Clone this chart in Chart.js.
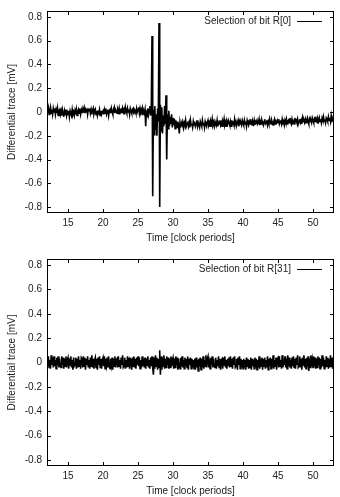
<!DOCTYPE html>
<html lang="en">
<head>
  <meta charset="UTF-8" />
  <title>Differential traces</title>
  <script src="https://cdn.jsdelivr.net/npm/chart.js"></script>
  <style>
    body { margin: 0; background: #fff; }
    .box { position: absolute; left: 0; width: 340px; }
  </style>
</head>
<body>

<div class="box" style="top:0;height:245px"><canvas id="top" width="340" height="245"></canvas></div>
<div class="box" style="top:245px;height:252px"><canvas id="bottom" width="340" height="252"></canvas></div>

<script>
  // sampling of the time axis (clock periods)
  const tStart = 12;
  const tStep = 0.1;

  const xTicks = [15, 20, 25, 30, 35, 40, 45, 50];
  const yTicks = [-0.8, -0.6, -0.4, -0.2, 0, 0.2, 0.4, 0.6, 0.8];

  const labels = ['Selection of bit R[0]', 'Selection of bit R[31]'];

  // differential trace [mV], one row per clock period
  const traceR0 = [
    .02,-.01,.03,-.02,.01,.04,-.01,.02,-.02,.03,
    0,.03,-.02,.02,-.01,.03,-.03,.01,.02,-.02,
    .01,-.03,.02,-.01,-.04,.01,-.02,.02,-.03,0,
    -.02,.01,-.04,.01,-.01,-.03,.02,-.02,0,-.03,
    .01,-.02,.02,-.03,0,.02,-.01,.03,-.02,.01,
    .03,-.01,.02,.04,-.01,.02,0,.03,-.02,.02,
    .01,.03,-.01,.02,-.02,.01,.03,-.02,0,.02,
    -.02,.01,-.03,0,-.01,.02,-.03,.01,-.02,0,
    .01,-.02,.02,-.01,.03,-.02,0,.02,-.03,.01,
    .02,-.01,.03,0,-.02,.02,.04,-.01,.02,.01,
    -.01,.02,0,.03,-.02,.01,.02,-.01,.03,0,
    .02,-.02,.04,.01,-.01,.03,0,.02,-.02,.03,
    .01,-.01,.02,.03,-.02,.02,.01,-.01,.03,0,
    .02,.04,-.01,.03,0,.02,-.02,.03,.01,-.01,
    .02,-.12,.01,-.04,.03,-.02,.02,.05,-.03,.04,
    .64,-.71,.02,-.19,.05,-.15,-.02,-.2,.03,-.08,
    .75,-.8,.06,-.16,.04,-.18,-.03,-.12,.05,-.1,
    .14,-.4,-.02,-.14,.01,-.12,-.04,-.1,-.02,-.13,
    -.05,-.11,-.06,-.14,-.07,-.1,-.13,-.08,-.12,-.18,
    -.09,-.13,-.1,-.08,-.12,-.14,-.09,-.11,-.07,-.12,
    -.1,-.08,-.12,-.09,-.13,-.07,-.11,-.1,-.13,-.08,
    -.11,-.08,-.12,-.1,-.07,-.12,-.09,-.11,-.13,-.08,
    -.1,-.12,-.07,-.11,-.09,-.13,-.08,-.1,-.12,-.09,
    -.07,-.11,-.09,-.12,-.08,-.1,-.06,-.11,-.09,-.12,
    -.08,-.1,-.11,-.07,-.12,-.09,-.1,-.07,-.11,-.09,
    -.12,-.08,-.1,-.06,-.11,-.09,-.12,-.08,-.1,-.07,
    -.09,-.11,-.08,-.12,-.07,-.1,-.09,-.11,-.06,-.1,
    -.08,-.11,-.09,-.07,-.12,-.08,-.1,-.09,-.11,-.07,
    -.09,-.11,-.07,-.1,-.08,-.12,-.07,-.09,-.11,-.08,
    -.1,-.06,-.09,-.11,-.08,-.1,-.07,-.11,-.08,-.09,
    -.07,-.1,-.09,-.06,-.11,-.08,-.1,-.07,-.09,-.11,
    -.08,-.06,-.1,-.09,-.07,-.11,-.08,-.1,-.06,-.09,
    -.1,-.07,-.09,-.11,-.08,-.06,-.1,-.08,-.09,-.07,
    -.09,-.06,-.1,-.08,-.07,-.1,-.06,-.09,-.08,-.11,
    -.07,-.09,-.06,-.1,-.08,-.07,-.09,-.05,-.08,-.1,
    -.06,-.09,-.08,-.1,-.05,-.08,-.07,-.09,-.06,-.1,
    -.08,-.06,-.09,-.07,-.1,-.05,-.08,-.07,-.09,-.06,
    -.09,-.07,-.05,-.08,-.1,-.06,-.08,-.07,-.09,-.05,
    -.07,-.09,-.06,-.08,-.04,-.07,-.09,-.06,-.08,-.05,
    -.08,-.06,-.09,-.05,-.07,-.04,-.08,-.06,-.09,-.05,
    -.06,-.08,-.04,-.07,-.05,-.08,-.03,-.07,-.06,-.08,
    -.05
  ];

  const traceR31 = [
    .04,-.03,.05,-.04,.02,-.05,.06,-.02,.04,-.04,
    .05,-.03,.02,-.05,.04,-.02,.05,-.04,.03,-.03,
    -.04,.05,-.02,.04,-.05,.03,-.03,.05,-.04,.02,
    .04,-.05,.03,-.02,.05,-.04,.02,-.06,.04,-.03,
    -.02,.04,-.05,.03,-.04,.05,-.03,.02,-.05,.04,
    .03,-.04,.05,-.03,.04,-.06,.03,-.02,.05,-.04,
    .02,-.05,.04,-.03,.06,-.04,.03,-.05,.02,.04,
    -.04,.03,-.06,.04,-.02,.05,-.04,.03,-.05,.02,
    .04,-.03,.05,-.05,.03,-.02,.04,-.04,.05,-.03,
    -.05,.03,-.02,.04,-.06,.03,-.03,.05,-.04,.02,
    .03,-.04,.05,-.03,.02,-.05,.04,-.02,.06,-.04,
    -.03,.04,-.05,.02,-.04,.05,-.03,.04,-.05,.03,
    .02,-.06,.04,-.03,.05,-.04,.03,-.05,.04,-.02,
    .05,-.03,.04,-.05,.02,-.04,.05,-.03,.03,-.04,
    .04,-.05,.03,-.02,.05,-.04,.02,-.05,.04,-.03,
    .05,-.04,-.1,.04,-.05,.06,-.03,.04,-.06,.03,
    -.04,.1,-.1,.05,-.06,.04,-.03,.06,-.05,.03,
    -.04,.05,-.02,.04,-.05,.03,-.04,.05,-.03,.02,
    .04,-.05,.03,-.04,.05,-.02,.04,-.06,.03,-.03,
    -.05,.04,-.03,.05,-.04,.02,-.05,.04,-.03,.03,
    -.04,.05,-.06,.03,-.02,.04,-.05,.03,-.04,.02,
    -.05,.03,-.06,.04,-.04,.02,-.07,.03,-.03,.04,
    -.06,.03,-.04,.05,-.05,.02,-.03,.06,-.04,.03,
    .05,-.04,.03,-.05,.04,-.02,.05,-.04,.03,-.03,
    -.04,.04,-.05,.02,-.03,.05,-.04,.03,-.06,.02,
    .03,-.05,.04,-.02,.05,-.04,.02,-.05,.03,-.03,
    .04,-.04,.05,-.03,.03,-.05,.04,-.02,.05,-.04,
    -.03,.03,-.06,.04,-.02,.05,-.05,.03,-.04,.02,
    -.05,.03,-.04,.02,-.06,.04,-.03,.03,-.05,.02,
    -.04,.04,-.06,.03,-.03,.02,-.05,.04,-.04,.03,
    -.06,.02,-.04,.05,-.05,.03,-.03,.04,-.06,.03,
    -.03,.04,-.05,.02,-.04,.05,-.06,.03,-.03,.04,
    -.05,.03,-.04,.06,-.05,.02,-.03,.04,-.06,.03,
    .04,-.04,.05,-.03,.02,-.05,.06,-.04,.03,-.02,
    .05,-.04,.03,-.05,.06,-.03,.04,-.04,.02,-.05,
    .04,-.03,.05,-.04,.03,-.05,.04,-.02,.06,-.04,
    -.03,.05,-.04,.03,-.06,.04,-.02,.06,-.04,.03,
    -.05,.04,-.03,.05,-.07,.03,-.04,.06,-.03,.02,
    -.04,.05,-.03,.04,-.05,.03,-.04,.05,-.02,.04,
    -.05,.03,-.04,.06,-.03,.04,-.05,.02,-.04,.05,
    -.03,.04,-.05,.03,-.04,.06,-.03,.04,-.05,.03,
    .02
  ];

  const font = { family: "'Liberation Sans', Arial, sans-serif", size: 10 };
  const textColor = '#222';

  // gnuplot style: closed frame, inward ticks on all sides, key with sample line
  const framePlugin = {
    id: 'frame',
    afterDatasetsDraw(chart) {
      const { ctx, chartArea: a, scales: { x, y } } = chart;
      ctx.save();
      ctx.strokeStyle = '#000';
      ctx.lineWidth = 1;
      ctx.strokeRect(a.left + 0.5, a.top + 0.5, a.right - a.left - 1, a.bottom - a.top - 1);
      ctx.beginPath();
      xTicks.forEach(v => {
        const px = Math.round(x.getPixelForValue(v)) + 0.5;
        ctx.moveTo(px, a.bottom); ctx.lineTo(px, a.bottom - 4);
        ctx.moveTo(px, a.top); ctx.lineTo(px, a.top + 4);
      });
      yTicks.forEach(v => {
        const py = Math.round(y.getPixelForValue(v)) + 0.5;
        ctx.moveTo(a.left, py); ctx.lineTo(a.left + 4, py);
        ctx.moveTo(a.right, py); ctx.lineTo(a.right - 4, py);
      });
      ctx.stroke();

      const ly = a.top + 10;
      ctx.font = '10px ' + font.family;
      ctx.fillStyle = textColor;
      ctx.textAlign = 'right';
      ctx.textBaseline = 'middle';
      ctx.fillText(chart.data.datasets[0].label, a.right - 43, ly);
      ctx.beginPath();
      ctx.moveTo(a.right - 37, Math.round(ly) + 0.5);
      ctx.lineTo(a.right - 12, Math.round(ly) + 0.5);
      ctx.stroke();
      ctx.restore();
    }
  };

  function makeChart(id, label, values, padTop, xHeight, titlePad) {
    const points = values.map((v, i) => ({ x: tStart + i * tStep, y: v }));
    return new Chart(document.getElementById(id), {
      type: 'line',
      data: {
        datasets: [{
          label: label,
          data: points,
          borderColor: '#000',
          borderWidth: 1.6,
          pointRadius: 0,
          tension: 0,
          fill: false
        }]
      },
      options: {
        responsive: false,
        animation: false,
        layout: { padding: { top: padTop, right: 6, left: 0, bottom: 0 } },
        plugins: { legend: { display: false }, tooltip: { enabled: false } },
        scales: {
          x: {
            type: 'linear',
            min: 12,
            max: 53,
            afterBuildTicks: s => { s.ticks = xTicks.map(v => ({ value: v })); },
            afterFit: s => { s.height = xHeight; },
            grid: { display: false, drawTicks: false },
            border: { display: false },
            ticks: { font: font, color: textColor, padding: 4, maxRotation: 0, autoSkip: false },
            title: { display: true, text: 'Time [clock periods]', font: font, color: textColor, padding: { top: 0, bottom: titlePad } }
          },
          y: {
            min: -0.85,
            max: 0.85,
            afterBuildTicks: s => { s.ticks = yTicks.map(v => ({ value: v })); },
            afterFit: s => { s.width = 47; },
            grid: { display: false, drawTicks: false },
            border: { display: false },
            ticks: { font: font, color: textColor, padding: 5, callback: v => String(+v.toFixed(1)) },
            title: { display: true, text: 'Differential trace [mV]', font: font, color: textColor, padding: { top: 6, bottom: 0 } }
          }
        }
      },
      plugins: [framePlugin]
    });
  }

  makeChart('top', labels[0], traceR0, 6, 32, 1);
  makeChart('bottom', labels[1], traceR31, 14, 31, 0);
</script>

</body>
</html>
